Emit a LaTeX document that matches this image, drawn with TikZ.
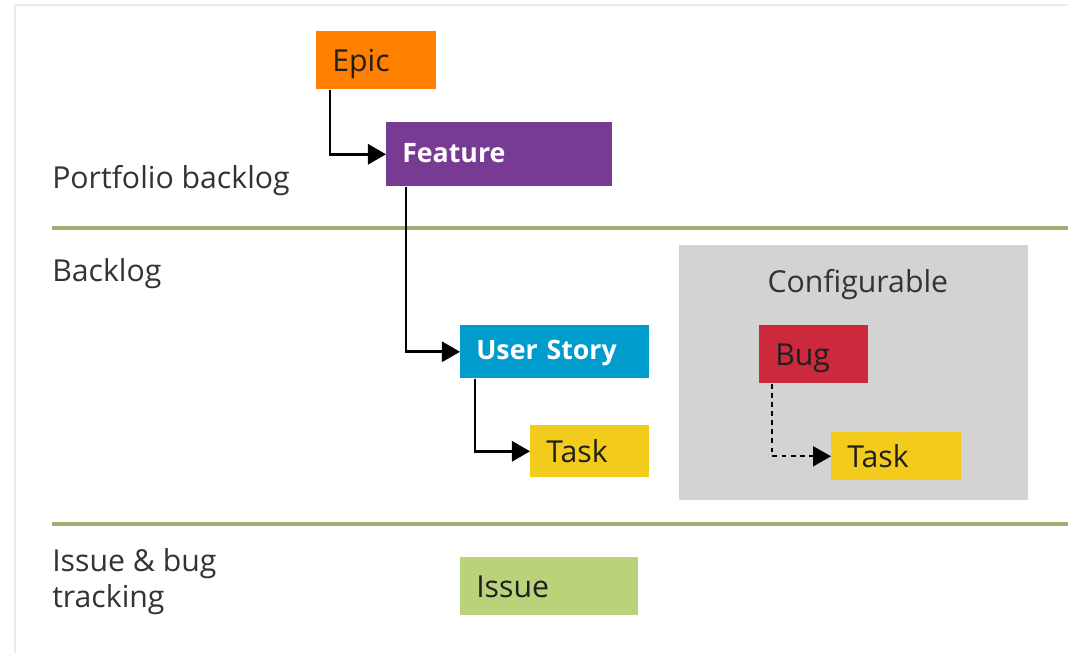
\documentclass[tikz,border=0pt]{standalone}
\usepackage{fontspec}
\setmainfont{Open Sans}
\usetikzlibrary{positioning, arrows.meta}
\definecolor{epicorange}{HTML}{FF7F00}
\definecolor{featurepurple}{HTML}{773B93}
\definecolor{storyblue}{HTML}{009CCC}
\definecolor{taskyellow}{HTML}{F2CB1D}
\definecolor{bugred}{HTML}{CC293D}
\definecolor{issuegreen}{HTML}{BAD27A}
\definecolor{configgray}{HTML}{D3D3D3}
\definecolor{rulegreen}{HTML}{9DAF74}
\definecolor{framegray}{HTML}{EBEBEB}
\tikzset{>={Triangle[length=0.45cm, width=0.5cm]},
  item/.style={anchor=north west, inner xsep=0.4cm, inner ysep=0pt, align=left,
    text height=15.4pt, text depth=0pt,
    font=\fontsize{21.5}{26}\selectfont, text=black!88},
  head/.style={item, text=white, text height=11pt, font=\fontsize{19}{23}\selectfont\bfseries},
  lane/.style={anchor=base west, align=left, inner sep=0pt,
    font=\fontsize{21.5}{25.6}\selectfont, text=black!80},
  link/.style={->, line width=2pt},
  rule/.style={draw=rulegreen, line width=2.2pt}}

\begin{document}
\begin{tikzpicture}[x=0.025cm, y=-0.025cm]
    \useasboundingbox[fill=white] (0,0) rectangle (1068,653);
    \draw[framegray, line width=2pt] (15,653) -- (15,5) -- (1068,5);

    % lanes
    \node[lane] (portfolio) at (52,188) {Portfolio backlog};
    \node[lane] (backlog) at (52,281) {Backlog};
    \node[lane] (tracking) at (52,607) {Issue \& bug\\tracking};
    \draw[rule] (52,228) -- (1068,228);
    \draw[rule] (52,524) -- (1068,524);

    % work items
    \node[item, fill=epicorange, text width=2.2cm, minimum height=1.45cm] (epic) at (316,31) {Epic};
    \node[head, fill=featurepurple, text width=4.85cm, minimum height=1.6cm] (feature) at (386,122) {Feature};
    \node[head, fill=storyblue, text width=3.925cm, minimum height=1.325cm] (story) at (460,325) {User Story};
    \node[item, fill=taskyellow, text width=2.175cm, minimum height=1.3cm] (task) at (530,425) {Task};
    \node[item, fill=issuegreen, text width=3.65cm, minimum height=1.45cm] (issue) at (460,557) {Issue};

    % configurable part
    \node[anchor=north west, fill=configgray, minimum width=8.725cm, minimum height=6.375cm] (config) at (679,245) {};
    \node[anchor=base, font=\fontsize{21.5}{26}\selectfont, text=black!80] (configlabel) at ([xshift=0.1cm, yshift=-1.19cm]config.north) {Configurable};
    \node[item, fill=bugred, text width=1.925cm, minimum height=1.45cm] (bug) at (759,325) {Bug};
    \node[item, fill=taskyellow, text width=2.45cm, minimum height=1.2cm] (bugtask) at (831,432) {Task};

    \draw[link] ([xshift=0.35cm]epic.south west) |- (feature);
    \draw[link] ([xshift=0.5cm]feature.south west) |- (story);
    \draw[link] ([xshift=0.375cm]story.south west) |- (task);
    \draw[link, line width=1.6pt, dash pattern=on 3.5pt off 3pt] ([xshift=0.325cm]bug.south west) |- (bugtask);
\end{tikzpicture}
\end{document}
